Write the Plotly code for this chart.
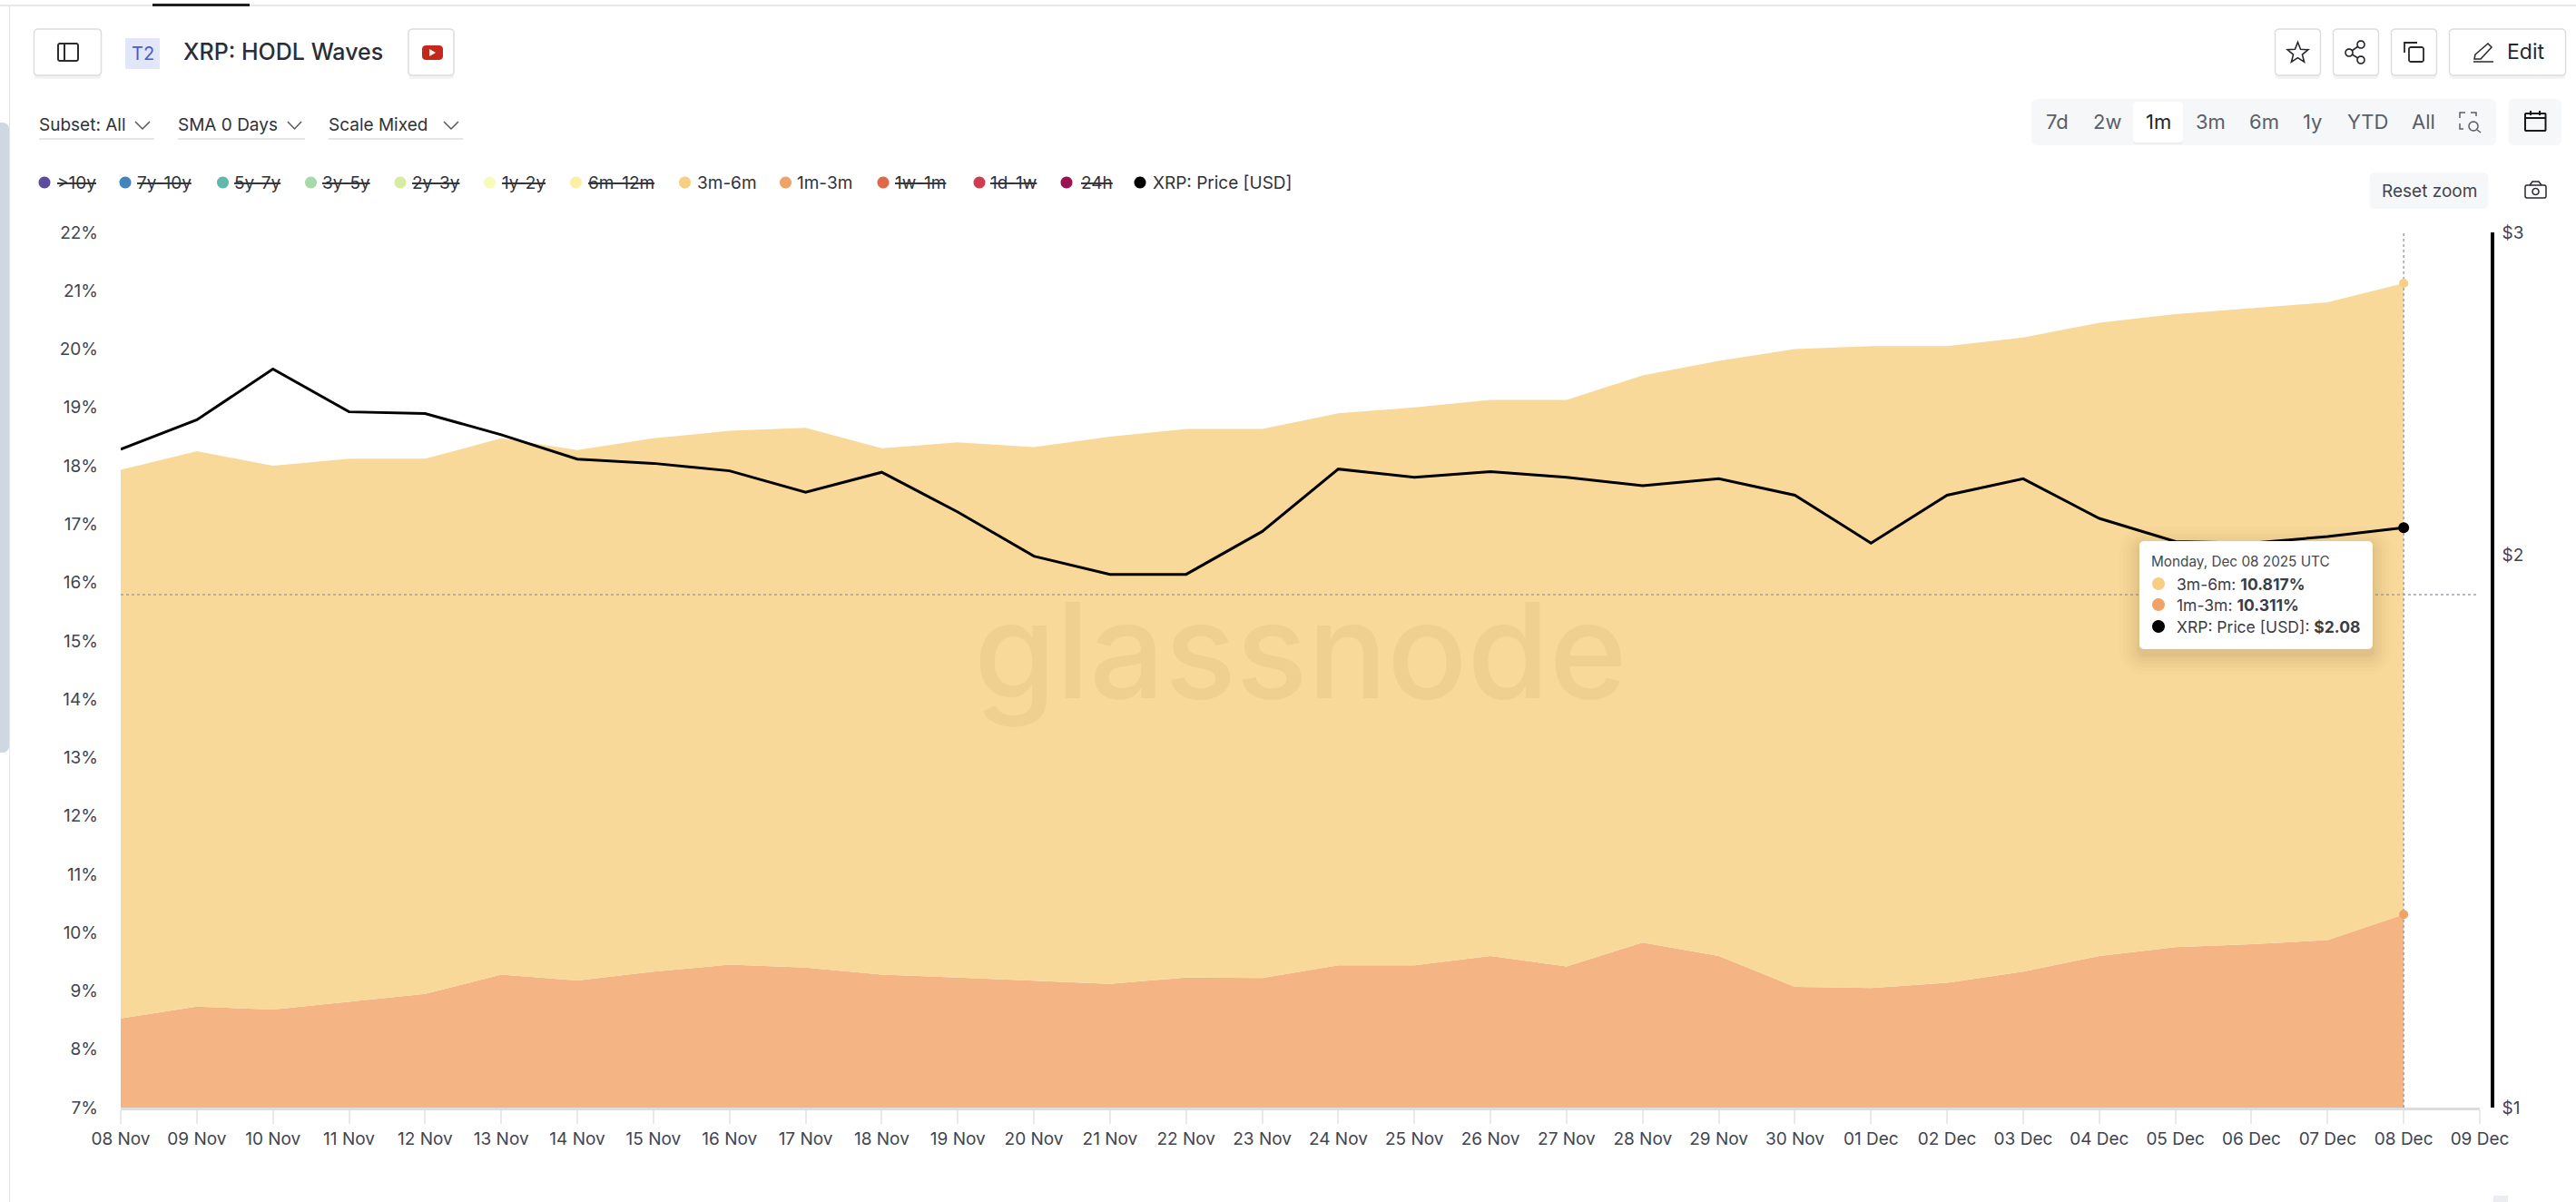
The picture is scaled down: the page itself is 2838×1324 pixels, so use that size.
import math
import plotly.graph_objects as go

dates = ["2025-11-08","2025-11-09","2025-11-10","2025-11-11","2025-11-12","2025-11-13","2025-11-14","2025-11-15","2025-11-16","2025-11-17","2025-11-18","2025-11-19","2025-11-20","2025-11-21","2025-11-22","2025-11-23","2025-11-24","2025-11-25","2025-11-26","2025-11-27","2025-11-28","2025-11-29","2025-11-30","2025-12-01","2025-12-02","2025-12-03","2025-12-04","2025-12-05","2025-12-06","2025-12-07","2025-12-08"]
band_1m_3m = [8.53,8.73,8.68,8.82,8.95,9.28,9.18,9.33,9.45,9.40,9.28,9.23,9.17,9.12,9.23,9.22,9.44,9.44,9.60,9.42,9.83,9.60,9.07,9.05,9.14,9.33,9.60,9.75,9.80,9.87,10.311]
band_3m_6m = [9.40,9.52,9.32,9.30,9.17,9.19,9.09,9.14,9.15,9.25,9.02,9.17,9.15,9.38,9.40,9.41,9.46,9.56,9.53,9.71,9.72,10.20,10.93,11.00,10.91,10.87,10.85,10.85,10.90,10.93,10.817]
price_usd = [2.285,2.371,2.527,2.395,2.390,2.327,2.257,2.245,2.224,2.165,2.220,2.112,1.998,1.953,1.953,2.061,2.229,2.206,2.222,2.206,2.183,2.202,2.157,2.031,2.157,2.202,2.095,2.035,2.031,2.048,2.071]
tooltip_price = "$2.08"

pct_ticks = list(range(7, 23))
price_ticks = [1, 2, 3]
date_ticks = dates + ["2025-12-09"]
date_labels = ["08 Nov","09 Nov","10 Nov","11 Nov","12 Nov","13 Nov","14 Nov","15 Nov","16 Nov","17 Nov","18 Nov","19 Nov","20 Nov","21 Nov","22 Nov","23 Nov","24 Nov","25 Nov","26 Nov","27 Nov","28 Nov","29 Nov","30 Nov","01 Dec","02 Dec","03 Dec","04 Dec","05 Dec","06 Dec","07 Dec","08 Dec","09 Dec"]

legend_names = [">10y","7y-10y","5y-7y","3y-5y","2y-3y","1y-2y","6m-12m","3m-6m","1m-3m","1w-1m","1d-1w","24h","XRP: Price [USD]"]
legend_colors = ["#5C4C9B","#4484BC","#62B8AC","#A6DAA8","#D6EDA0","#F6FBB9","#FDEEA6","#F8CE82","#EFA366","#E0694A","#D03D4F","#9C1150","#000000"]
legend_marker_x = [49,138,245.5,342.5,441,539.5,634.5,754.5,865.5,973,1079,1175,1256]
legend_text_x = [62.5,151,258,355,454,553,648,768,878,986,1091,1191,1270]
legend_active = [False]*7 + [True, True] + [False]*3 + [True]

W, H = 2838, 1324
L, R, T, B = 133, 2746, 256, 1220
FONT = "Inter"
INK = "#3f4450"

def px(x): return (x - L) / (R - L)
def py(y): return 1 - (y - T) / (B - T)

shapes, annos = [], []

def path_shape(d, fill=None, line=None, lw=1.5, dash=None):
    ln = dict(color=line or "rgba(0,0,0,0)", width=lw if line else 0)
    if dash: ln["dash"] = dash
    shapes.append(dict(type="path", xref="paper", yref="paper", path=d, fillcolor=fill or "rgba(0,0,0,0)", line=ln, layer="above"))

def pt(x, y): return f"{px(x):.6f},{py(y):.6f}"

def poly(points, closed=False, **kw):
    d = "M" + " L".join(pt(x, y) for x, y in points) + (" Z" if closed else "")
    path_shape(d, **kw)

def rrect(x0, y0, x1, y1, r=4, fill=None, line=None, lw=1.5):
    pts = []
    for cx, cy, a0 in [(x1-r, y0+r, -90), (x1-r, y1-r, 0), (x0+r, y1-r, 90), (x0+r, y0+r, 180)]:
        for k in range(7):
            a = math.radians(a0 + k*15)
            pts.append((cx + r*math.cos(a), cy + r*math.sin(a)))
    poly(pts, closed=True, fill=fill, line=line, lw=lw)

def circle(cx, cy, r, fill=None, line=None, lw=1.5):
    pts = [(cx + r*math.cos(math.radians(a)), cy + r*math.sin(math.radians(a))) for a in range(0, 360, 15)]
    poly(pts, closed=True, fill=fill, line=line, lw=lw)

def text(x, y, s, size=19, color=INK, anchor="left", weight=None, family=FONT):
    f = dict(family=family, size=size, color=color)
    if weight: f["weight"] = weight
    annos.append(dict(xref="paper", yref="paper", x=px(x), y=py(y), text=s, showarrow=False, xanchor=anchor, yanchor="middle", font=f, borderpad=0, borderwidth=0))

def button(x0, x1, y0=32, y1=83):
    rrect(x0, y1-3, x1, y1+4, r=4, fill="#f3f3f4")
    rrect(x0, y0, x1, y1, r=4, fill="#ffffff", line="#dcdde0", lw=1.5)

def chevron(x0, x1, y0, y1):
    poly([(x0, y0), ((x0+x1)/2, y1), (x1, y0)], line="#55585f", lw=1.5)

# page frame
shapes.append(dict(type="rect", xref="paper", yref="paper", x0=px(0), x1=px(W), y0=py(5), y1=py(7), fillcolor="#e7e8ea", line=dict(width=0), layer="above"))
shapes.append(dict(type="rect", xref="paper", yref="paper", x0=px(168), x1=px(275), y0=py(4), y1=py(7), fillcolor="#1f2024", line=dict(width=0), layer="above"))
shapes.append(dict(type="rect", xref="paper", yref="paper", x0=px(10), x1=px(11), y0=py(7), y1=py(H), fillcolor="#e3e5e8", line=dict(width=0), layer="above"))
rrect(-8, 135, 10, 829, r=7, fill="#cdd8e2")
shapes.append(dict(type="rect", xref="paper", yref="paper", x0=px(2747), x1=px(2763), y0=py(1317), y1=py(1324), fillcolor="#ecedf2", line=dict(width=0), layer="above"))

# header left
button(37.5, 111.5)
rrect(64, 48, 86, 67, r=2, line="#2a2c31", lw=2)
poly([(71, 48), (71, 67)], line="#2a2c31", lw=2)
rrect(138, 42, 176, 76, r=1, fill="#E2E6F9")
text(157, 59, "T2", size=20, color="#4a5bd0", anchor="center")
text(201.5, 57, "XRP: HODL Waves", size=25, color="#2c2e33", weight=500)
button(450, 500)
rrect(465, 50, 488, 66, r=4, fill="#C4281B")
poly([(473, 54), (480, 58), (473, 62)], closed=True, fill="#ffffff")

# dropdowns
for lbl, tx, cx0, cx1, ux1 in [("Subset: All", 43, 149, 165, 170), ("SMA 0 Days", 196, 317, 332, 336), ("Scale Mixed", 362, 489, 505, 510)]:
    text(tx, 137, lbl, size=19, color="#2f3238")
    chevron(cx0, cx1, 134, 142)
    poly([(tx, 153), (ux1, 153)], line="#dcdde0", lw=1.5)

# header right buttons
button(2506.5, 2556.5)
star = []
for k in range(10):
    r = 12 if k % 2 == 0 else 5.2
    a = math.radians(-90 + 36*k)
    star.append((2531.5 + r*math.cos(a), 58.5 + r*math.sin(a)))
poly(star, closed=True, line="#26282c", lw=1.6)
button(2570.5, 2620.5)
poly([(2601, 49), (2588, 58), (2601, 66)], line="#26282c", lw=1.6)
for cx, cy in [(2601, 49), (2588, 58), (2601, 66)]:
    circle(cx, cy, 4, fill="#ffffff", line="#26282c", lw=1.6)
button(2634.5, 2684.5)
rrect(2654, 52, 2670, 68, r=2, line="#26282c", lw=1.8)
poly([(2649, 58), (2649, 47), (2663, 47)], line="#26282c", lw=1.8)
button(2698.5, 2826.5)
poly([(2727, 60), (2741, 48), (2745, 52), (2733, 65), (2726, 65)], closed=True, line="#26282c", lw=1.5)
poly([(2725, 68), (2747, 68)], line="#26282c", lw=1.5)
text(2762, 57, "Edit", size=23, color="#26282c")

# range selector
rrect(2238, 109, 2750, 160, r=6, fill="#F6F7F9")
rrect(2350, 113, 2405, 159, r=4, fill="#eceef1")
rrect(2350, 112, 2405, 157, r=4, fill="#ffffff")
for lbl, cx, col in [("7d", 2266.6, "#5a5e66"), ("2w", 2321, "#5a5e66"), ("1m", 2377.6, "#202226"), ("3m", 2435.5, "#5a5e66"), ("6m", 2494, "#5a5e66"), ("1y", 2547.5, "#5a5e66"), ("YTD", 2608, "#5a5e66"), ("All", 2670, "#5a5e66")]:
    text(cx, 134, lbl, size=22, color=col, anchor="center")
poly([(2710, 130), (2710, 124), (2716, 124)], line="#5a5e66", lw=1.5)
poly([(2722, 124), (2728, 124), (2728, 128)], line="#5a5e66", lw=1.5)
poly([(2710, 136), (2710, 142), (2714, 142)], line="#5a5e66", lw=1.5)
circle(2725, 139, 5, line="#5a5e66", lw=1.5)
poly([(2729, 143), (2733, 146)], line="#5a5e66", lw=1.5)
rrect(2763.5, 109, 2822, 160, r=6, fill="#F6F7F9")
rrect(2782, 125, 2804.5, 144, r=1, line="#17181a", lw=2)
poly([(2782, 130), (2804.5, 130)], line="#17181a", lw=2)
poly([(2788, 122), (2788, 127)], line="#17181a", lw=2)
poly([(2798, 122), (2798, 127)], line="#17181a", lw=2)

# reset zoom and camera
rrect(2610.5, 190, 2741.5, 230, r=6, fill="#F6F7F9")
text(2676, 210.5, "Reset zoom", size=19, color="#3f4450", anchor="center")
rrect(2782, 204, 2805, 218, r=2, line="#26282c", lw=1.5)
poly([(2787, 204), (2790, 200), (2797, 200), (2800, 204)], line="#26282c", lw=1.5)
circle(2793.5, 211, 3.5, line="#26282c", lw=1.5)

# legend
for name, col, mx, tx, active in zip(legend_names, legend_colors, legend_marker_x, legend_text_x, legend_active):
    circle(mx, 201, 6.5, fill=col)
    text(tx, 202, name if active else f"<s>{name}</s>", size=19, color="#2f3238")

# watermark
text(1432, 716, "glassnode", size=146, color="rgba(170,120,50,0.09)", anchor="center", weight=500)

# crosshair, horizontal part
shapes.append(dict(type="line", xref="paper", yref="paper", x0=0, x1=px(2731), y0=py(655), y1=py(655), line=dict(color="#9aa3af", width=1.5, dash="dot"), layer="above"))

# tooltip
for grow, alpha in [(22, .012), (18, .014), (14, .016), (10, .018), (7, .02), (4, .024), (2, .03)]:
    rrect(2357-grow, 596-grow+6, 2614+grow, 715+grow+6, r=5+grow, fill=f"rgba(90,70,30,{alpha})")
rrect(2357, 596, 2614, 715, r=5, fill="#ffffff")
text(2370, 618, "Monday, Dec 08 2025 UTC", size=15.3, color="#45484f")
rows = [("3m-6m", f"{band_3m_6m[-1]:.3f}%", "#F8CE82", 643), ("1m-3m", f"{band_1m_3m[-1]:.3f}%", "#EFA366", 666), ("XRP: Price [USD]", tooltip_price, "#000000", 690)]
for lbl, val, col, ry in rows:
    circle(2378, ry, 7, fill=col)
    text(2398, ry, f"{lbl}: <b>{val}</b>", size=17.5, color="#3a3d44")

fig = go.Figure()
fig.add_trace(go.Scatter(x=dates, y=band_1m_3m, name="1m-3m", stackgroup="one", mode="lines", fillcolor="#F4B483", line=dict(width=0)))
fig.add_trace(go.Scatter(x=dates, y=band_3m_6m, name="3m-6m", stackgroup="one", mode="lines", fillcolor="#F8D999", line=dict(width=0)))
fig.add_trace(go.Scatter(x=[dates[-1], dates[-1]], y=[pct_ticks[0], pct_ticks[-1]], mode="lines", line=dict(color="#9aa3af", width=1.5, dash="dot")))
fig.add_trace(go.Scatter(x=[dates[-1]], y=[band_1m_3m[-1]], mode="markers", marker=dict(size=10, color="#EFA366")))
fig.add_trace(go.Scatter(x=[dates[-1]], y=[band_1m_3m[-1] + band_3m_6m[-1]], mode="markers", marker=dict(size=10, color="#F8CE82")))
fig.add_trace(go.Scatter(x=dates, y=price_usd, name="XRP: Price [USD]", yaxis="y2", mode="lines", line=dict(color="#000000", width=3)))
fig.add_trace(go.Scatter(x=[dates[-1]], y=[price_usd[-1]], yaxis="y2", mode="markers", marker=dict(size=12, color="#000000")))

fig.update_layout(
    width=W, height=H, autosize=False, showlegend=False,
    paper_bgcolor="#ffffff", plot_bgcolor="#ffffff",
    margin=dict(l=L, r=W-R, t=T, b=H-B, pad=0),
    font=dict(family=FONT, size=19, color=INK),
    shapes=shapes, annotations=annos,
    xaxis=dict(type="date", domain=[0, (2732-L)/(R-L)], range=["2025-11-08", "2025-12-09"],
               tickvals=date_ticks, ticktext=date_labels, tickangle=0,
               ticks="outside", ticklen=15, tickwidth=1.5, tickcolor="#e8e9eb",
               showline=True, linecolor="#dcdde0", linewidth=3, showgrid=False, zeroline=False,
               tickfont=dict(family=FONT, size=19, color=INK), anchor="y"),
    yaxis=dict(range=[7, 22], tickvals=pct_ticks, ticktext=[f"{v}%" for v in pct_ticks], showgrid=False, zeroline=False,
               ticks="", showline=False, ticklabelstandoff=24, tickfont=dict(family=FONT, size=19, color=INK)),
    yaxis2=dict(type="log", overlaying="y", side="right", anchor="free", position=1,
                range=[0, math.log10(3)], tickvals=price_ticks, ticktext=[f"${v}" for v in price_ticks],
                showgrid=False, zeroline=False, showline=True, linecolor="#000000", linewidth=3.5, ticks="",
                ticklabelstandoff=5, tickfont=dict(family=FONT, size=19, color=INK)),
)
fig.write_html("out.html", config=dict(displayModeBar=False), post_script="document.body.style.margin='0';document.body.style.overflow='hidden';")
